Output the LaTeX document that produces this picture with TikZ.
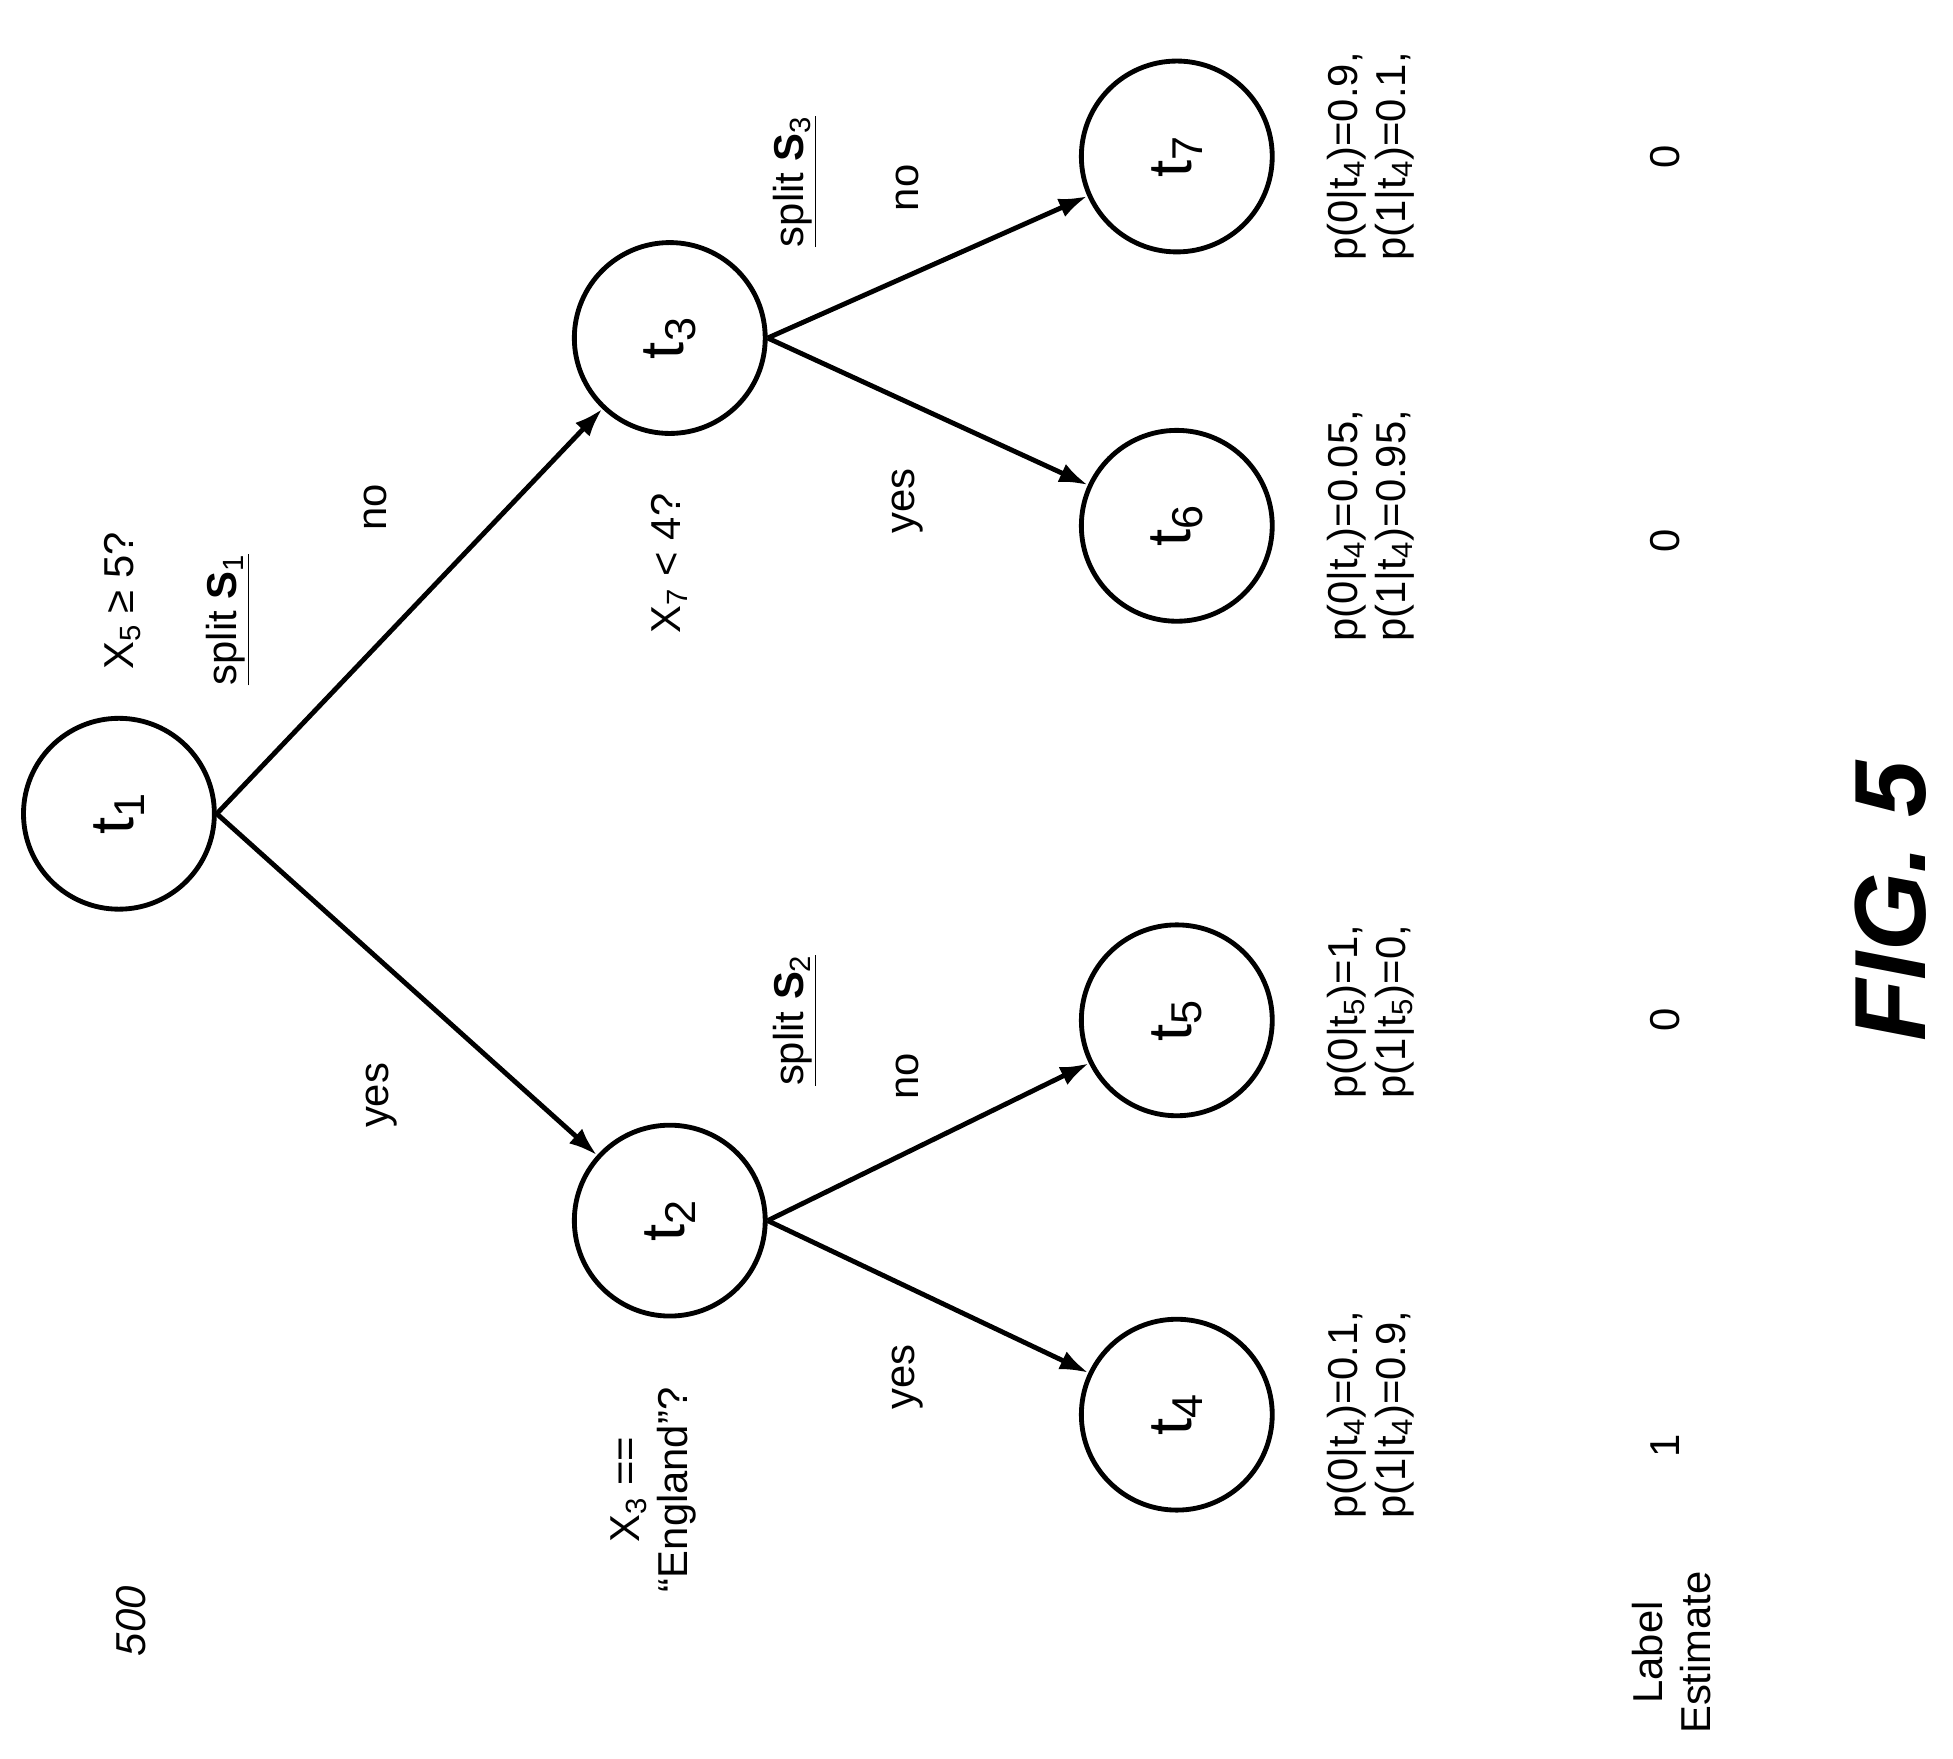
\documentclass[tikz,border=0pt]{standalone}
\usepackage{fontspec}
\setmainfont{Liberation Sans}
\usetikzlibrary{arrows.meta}
\begin{document}
\begin{tikzpicture}[x=0.02cm,y=-0.02cm,
    tnode/.style={circle,draw,line width=2.2pt,minimum size=3.05cm,rotate=90,font=\fontsize{28}{30}\selectfont},
    arr/.style={-{Latex[length=13pt,width=9pt]},line width=2.2pt},
    txt/.style={rotate=90,font=\fontsize{19}{22}\selectfont,align=center}]
  \useasboundingbox (0,0) rectangle (1560,1405);
  % tree nodes
  \node[tnode] (t1) at (95,650) {t\textsubscript{1}};
  \node[tnode] (t2) at (535,975) {t\textsubscript{2}};
  \node[tnode] (t3) at (535,270) {t\textsubscript{3}};
  \node[tnode] (t4) at (940,1130) {t\textsubscript{4}};
  \node[tnode] (t5) at (940,815) {t\textsubscript{5}};
  \node[tnode] (t6) at (940,420) {t\textsubscript{6}};
  \node[tnode] (t7) at (940,125) {t\textsubscript{7}};
  \draw[arr] (t1.south) -- (t2);
  \draw[arr] (t1.south) -- (t3);
  \draw[arr] (t2.south) -- (t4);
  \draw[arr] (t2.south) -- (t5);
  \draw[arr] (t3.south) -- (t6);
  \draw[arr] (t3.south) -- (t7);
  % splits
  \node[txt] (q1) at (98,480) {X\textsubscript{5} ≥ 5?};
  \node[txt] (s1) at (182,495) {\underline{split \textbf{S}\textsubscript{1}}};
  \node[txt] (n1) at (300,405) {no};
  \node[txt] (y1) at (305,875) {yes};
  \node[txt] (q3) at (535,450) {X\textsubscript{7} < 4?};
  \node[txt] (q2) at (522,1190) {X\textsubscript{3} ==\\“England”?};
  \node[txt] (s2) at (635,815) {\underline{split \textbf{S}\textsubscript{2}}};
  \node[txt] (n2) at (725,860) {no};
  \node[txt] (y2) at (725,1100) {yes};
  \node[txt] (s3) at (635,145) {\underline{split \textbf{S}\textsubscript{3}}};
  \node[txt] (n3) at (725,150) {no};
  \node[txt] (y3) at (725,400) {yes};
  % probabilities
  \node[txt,align=left] (p7) at (1095,125) {p(0|t\textsubscript{4})=0.9,\\p(1|t\textsubscript{4})=0.1,};
  \node[txt,align=left] (p6) at (1095,420) {p(0|t\textsubscript{4})=0.05,\\p(1|t\textsubscript{4})=0.95,};
  \node[txt,align=left] (p5) at (1095,808) {p(0|t\textsubscript{5})=1,\\p(1|t\textsubscript{5})=0,};
  \node[txt,align=left] (p4) at (1095,1130) {p(0|t\textsubscript{4})=0.1,\\p(1|t\textsubscript{4})=0.9,};
  % label estimates
  \node[txt] (e7) at (1330,125) {0};
  \node[txt] (e6) at (1330,432) {0};
  \node[txt] (e5) at (1330,815) {0};
  \node[txt] (e4) at (1330,1155) {1};
  \node[txt] (lab) at (1335,1320) {Label\\Estimate};
  \node[txt] (ref) at (105,1295) {\itshape 500};
  \node[rotate=90,font=\fontsize{46}{48}\selectfont\bfseries\itshape] (fig) at (1510,720) {FIG. 5};
\end{tikzpicture}
\end{document}
